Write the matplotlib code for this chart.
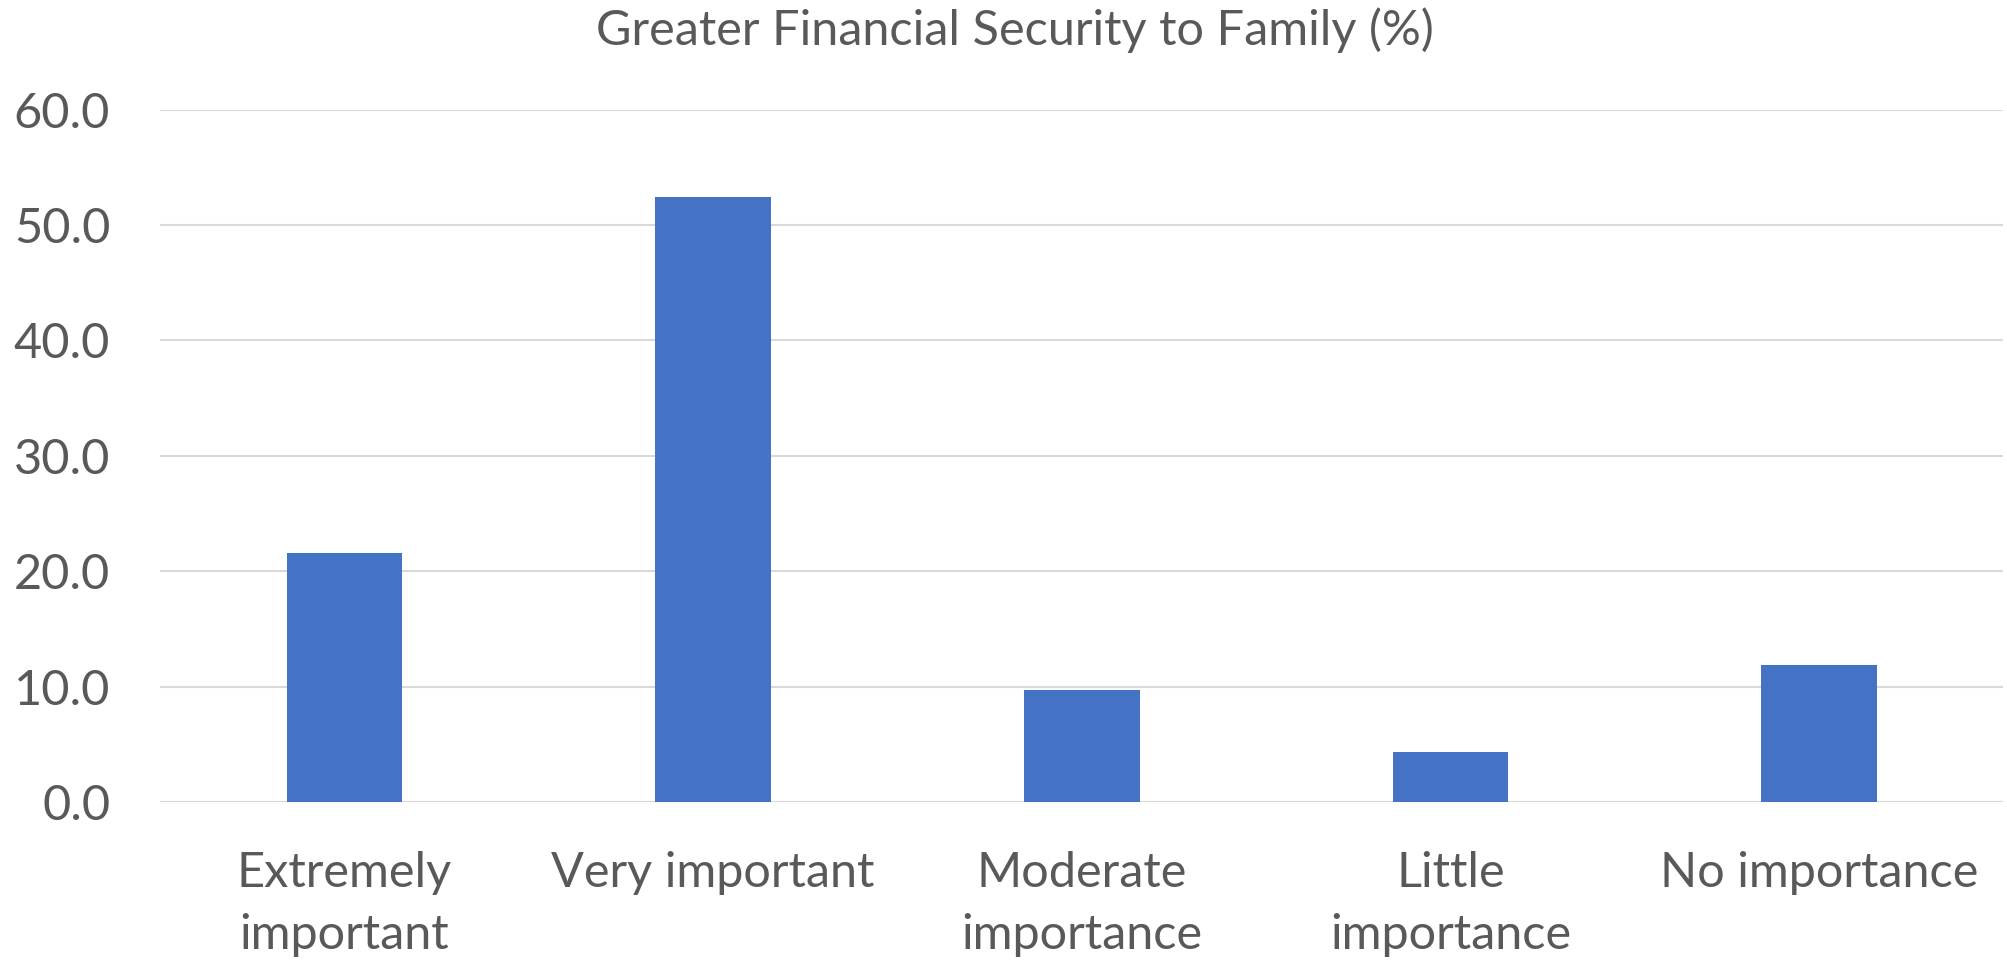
import matplotlib
matplotlib.use('Agg')
import matplotlib.pyplot as plt
import numpy as np

categories = ['Extremely\nimportant', 'Very important', 'Moderate\nimportance',
              'Little\nimportance', 'No importance']
values = [21.6, 52.4, 9.7, 4.3, 11.9]
y_ticks = [0, 10, 20, 30, 40, 50, 60]

TEXT = '#595959'
BAR = '#4472C4'
GRID = '#D9D9D9'

plt.rcParams['font.family'] = ['Lato', 'DejaVu Sans']

fig = plt.figure(figsize=(20.08, 9.61), dpi=100)
ax = fig.add_axes([0.0798, 0.1655, 0.9179, 0.7204])

x = np.arange(len(categories))
ax.bar(x, values, width=0.314, color=BAR, zorder=3)

ax.set_xlim(-0.5, len(categories) - 0.5)
ax.set_ylim(0, 60)
ax.set_yticks(y_ticks)
ax.set_yticklabels([f'{v:.1f}' for v in y_ticks])
ax.set_xticks(x)
ax.set_xticklabels(categories, linespacing=1.52)

ax.grid(axis='y', color=GRID, linewidth=1.5, zorder=0)
for side in ['top', 'right', 'left', 'bottom']:
    ax.spines[side].set_visible(False)
ax.axhline(0, color=GRID, linewidth=1.5, zorder=2)

ax.tick_params(axis='y', length=0, pad=36, labelsize=35, labelcolor=TEXT)
ax.tick_params(axis='x', length=0, pad=35, labelsize=35, labelcolor=TEXT)

fig.text(0.5055, 0.992, 'Greater Financial Security to Family (%)', ha='center', va='top',
         fontsize=35, color=TEXT)

fig.savefig('out.png', dpi=100, facecolor='white')
plt.close(fig)
